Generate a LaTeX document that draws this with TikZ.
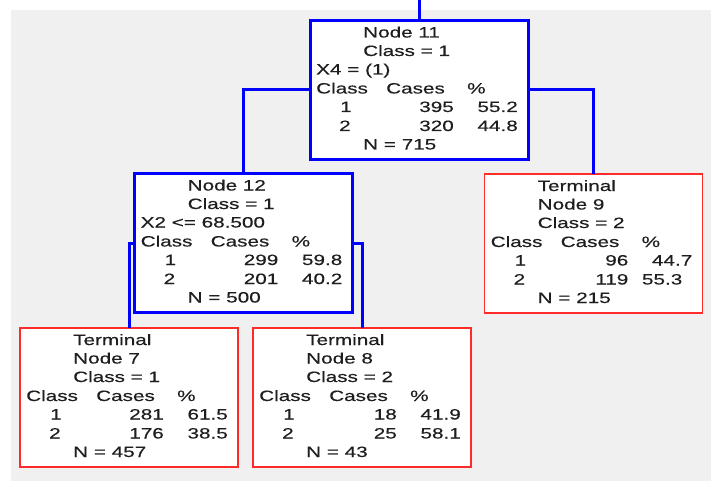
\documentclass[tikz,border=0pt]{standalone}
\usepackage{fontspec}
\newfontfamily\treefont[FakeStretch=1.38,FakeBold=0.3]{Liberation Sans}
\definecolor{bgcol}{HTML}{F0F0F0}
\definecolor{boxblue}{HTML}{0000FF}
\definecolor{boxred}{HTML}{FF2A2A}
\definecolor{txtcol}{HTML}{1E1E1E}
\tikzset{
  txt/.style={inner sep=0pt, anchor=base west, text=txtcol, font={\treefont\fontsize{15}{18}\selectfont}},
  rtxt/.style={txt, anchor=base east},
  splitbox/.style={draw=boxblue, line width=3pt, fill=white, minimum width=218pt, minimum height=139pt, inner sep=0pt, outer sep=0pt},
  termbox/.style={draw=boxred, line width=1.8pt, fill=white, minimum width=218pt, minimum height=139pt, inner sep=0pt, outer sep=0pt},
  link/.style={draw=boxblue, line width=3pt}
}
\newcommand\boxtext[9]{%
  \node[txt] (t1) at (53,17) {#1};
  \node[txt] (t2) at (53,35.5) {#2};
  \node[txt] (t3) at (#4,54) {#3};
  \node[txt] (h1) at (6,73) {Class};
  \node[txt] (h2) at (76,73) {Cases};
  \node[txt] (h3) at (157,73) {\%};
  \node[txt] (a1) at (30,91.5) {1};
  \node[rtxt] (a2) at (144,91.5) {#5};
  \node[rtxt] (a3) at (208,91.5) {#6};
  \node[txt] (b1) at (29,110.5) {2};
  \node[rtxt] (b2) at (144,110.5) {#7};
  \node[rtxt] (b3) at (#8,110.5) {#9};
}
\newcommand\boxfoot[1]{\node[txt] (nn) at (53,129) {#1};}
\begin{document}
\begin{tikzpicture}[x=1pt, y=-1pt]
\useasboundingbox (0,0) rectangle (711,481);
\fill[white] (0,0) rectangle (711,481);
\fill[bgcol] (11,10) rectangle (711,481);

\coordinate (top) at (419,0);
\node[splitbox] (n11) at (419,90) {};
\node[splitbox] (n12) at (243.5,243) {};
\node[termbox] (n9) at (593.5,243.5) {};
\node[termbox] (n7) at (129,397.5) {};
\node[termbox] (n8) at (362,397.5) {};

\draw[link] (top) -- (n11.north);
\draw[link] (n11.west) -| (n12.north);
\draw[link] (n11.east) -| (n9.north);
\draw[link] (n12.west) -| (n7.north);
\draw[link] (n12.east) -| (n8.north);

\begin{scope}[shift={(n11.north west)}, name prefix=n11-]
  \boxtext{Node 11}{Class = 1}{X4 = (1)}{6}{395}{55.2}{320}{208}{44.8}
  \boxfoot{N = 715}
\end{scope}
\begin{scope}[shift={(n12.north west)}, name prefix=n12-]
  \boxtext{Node 12}{Class = 1}{X2 <= 68.500}{6}{299}{59.8}{201}{208}{40.2}
  \boxfoot{N = 500}
\end{scope}
\begin{scope}[shift={(n9.north west)}, name prefix=n9-]
  \boxtext{Terminal}{Node 9}{Class = 2}{53}{96}{44.7}{119}{198}{55.3}
  \boxfoot{N = 215}
\end{scope}
\begin{scope}[shift={(n7.north west)}, name prefix=n7-]
  \boxtext{Terminal}{Node 7}{Class = 1}{53}{281}{61.5}{176}{208}{38.5}
  \boxfoot{N = 457}
\end{scope}
\begin{scope}[shift={(n8.north west)}, name prefix=n8-]
  \boxtext{Terminal}{Node 8}{Class = 2}{53}{18}{41.9}{25}{208}{58.1}
  \boxfoot{N = 43}
\end{scope}
\end{tikzpicture}
\end{document}
